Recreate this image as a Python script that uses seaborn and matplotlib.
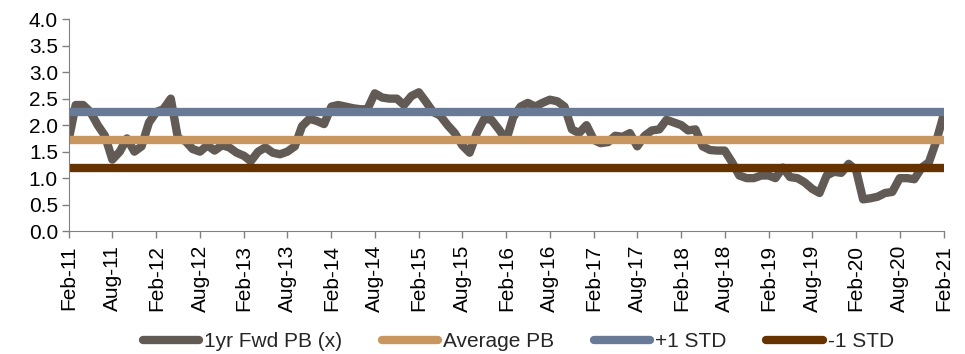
import pandas as pd
import numpy as np
import matplotlib
matplotlib.use("Agg")
import matplotlib.pyplot as plt
import seaborn as sns

# data (monthly, Feb-11 .. Feb-21)
months = pd.date_range("2011-02-01", "2021-02-01", freq="MS")
fwd_pb = [1.75, 2.38, 2.38, 2.25, 2.0, 1.8, 1.35, 1.5, 1.75, 1.5,
          1.6, 2.05, 2.25, 2.3, 2.5, 1.75, 1.7, 1.55, 1.5, 1.62,
          1.52, 1.62, 1.58, 1.48, 1.42, 1.32, 1.5, 1.58, 1.48, 1.45,
          1.5, 1.6, 1.98, 2.12, 2.08, 2.02, 2.35, 2.38, 2.35, 2.32,
          2.3, 2.3, 2.6, 2.52, 2.5, 2.5, 2.38, 2.55, 2.62, 2.45,
          2.25, 2.18, 2.0, 1.85, 1.62, 1.48, 1.85, 2.12, 2.1, 1.92,
          1.72, 2.15, 2.35, 2.42, 2.35, 2.42, 2.48, 2.45, 2.35, 1.92,
          1.85, 2.0, 1.72, 1.66, 1.68, 1.8, 1.78, 1.85, 1.6, 1.8,
          1.9, 1.92, 2.1, 2.05, 2.0, 1.9, 1.92, 1.6, 1.53, 1.52,
          1.52, 1.3, 1.05, 1.0, 1.0, 1.05, 1.05, 1.0, 1.2, 1.02,
          1.0, 0.92, 0.8, 0.72, 1.05, 1.12, 1.1, 1.27, 1.15, 0.6,
          0.62, 0.65, 0.72, 0.74, 1.0, 1.0, 0.98, 1.2, 1.3, 1.7,
          2.2]
avg_pb = 1.72
plus_std = 2.25
minus_std = 1.19

tick_dates = pd.date_range("2011-02-01", "2021-02-01", freq="6MS")
tick_labels = [d.strftime("%b-%y") for d in tick_dates]

df = pd.DataFrame({"date": months, "pb": fwd_pb})
df["avg"] = avg_pb
df["plus"] = plus_std
df["minus"] = minus_std

sns.set_style("ticks")
plt.rcParams["font.family"] = ["Liberation Sans", "DejaVu Sans"]

fig, ax = plt.subplots(figsize=(9.65, 3.54), dpi=100)
fig.subplots_adjust(left=0.0715, right=0.978, top=0.946, bottom=0.347)

lw = 4.3
sns.lineplot(data=df, x="date", y="pb", ax=ax, color="#625A55", lw=lw,
             solid_joinstyle="round", solid_capstyle="round", label="1yr Fwd PB (x)")
sns.lineplot(data=df, x="date", y="avg", ax=ax, color="#C8975F", lw=lw, label="Average PB")
sns.lineplot(data=df, x="date", y="plus", ax=ax, color="#687A96", lw=lw, label="+1 STD")
sns.lineplot(data=df, x="date", y="minus", ax=ax, color="#663300", lw=lw, label="-1 STD")

ax.set_xlim(months[0], months[-1])
ax.set_ylim(0, 4)
ax.set_yticks(np.arange(0, 4.01, 0.5))
ax.set_yticklabels([f"{v:.1f}" for v in np.arange(0, 4.01, 0.5)], fontsize=15)
ax.set_xticks(tick_dates)
ax.set_xticklabels(tick_labels, rotation=90, fontsize=15)
ax.set_xlabel("")
ax.set_ylabel("")
ax.tick_params(axis="both", labelcolor="black", length=5, width=1, color="#808080", pad=3)
ax.tick_params(axis="x", pad=5)
for s in ["left", "bottom"]:
    ax.spines[s].set_color("#808080")
sns.despine(ax=ax)

handles, labels = ax.get_legend_handles_labels()
ax.get_legend().remove()
for h in handles:
    h.set_linewidth(6)
    h.set_solid_capstyle("round")
fig.legend(handles, labels, loc="lower center", bbox_to_anchor=(0.537, -0.045), ncol=4,
           frameon=False, fontsize=15, handlelength=2.7, handletextpad=0.25,
           columnspacing=1.9)

fig.savefig("out.png", dpi=100)
